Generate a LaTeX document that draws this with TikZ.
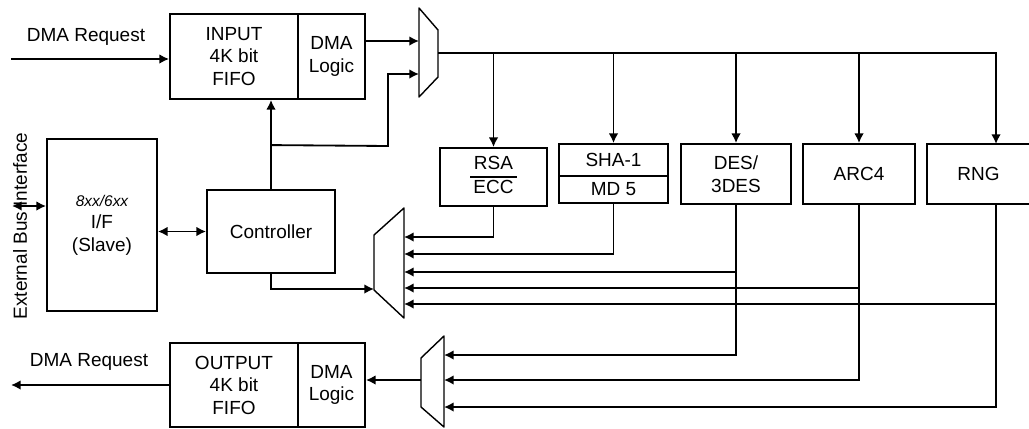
\documentclass[tikz,border=0pt]{standalone}
\usepackage{fontspec}
\setmainfont{Liberation Sans}
\usepackage{tikz}
\usetikzlibrary{arrows.meta, positioning}

\begin{document}
\begin{tikzpicture}[
    x=0.025cm, y=-0.025cm,
    font=\fontsize{13.5}{16}\selectfont,
    block/.style={rectangle, draw, line width=1.3pt, align=center, inner sep=0pt},
    wire/.style={line width=1.3pt},
    arrow/.style={line width=1.3pt, -{Latex[length=2.4mm,width=2.4mm]}},
    biarrow/.style={line width=1.3pt, {Latex[length=2.4mm,width=2.4mm]}-{Latex[length=2.4mm,width=2.4mm]}},
    mux/.style={draw, line width=1pt, line join=round}
]
\useasboundingbox (0,0) rectangle (1029,428);

% fifos
\node[block, minimum width=3.2cm, minimum height=2.125cm] (infifo) at (234,56.5) {INPUT\\4K bit\\FIFO};
\node[block, minimum width=1.675cm, minimum height=2.125cm] (indma) at (331.5,56.5) {DMA\\Logic};
\node[block, minimum width=3.2cm, minimum height=2.1cm] (outfifo) at (234,385) {OUTPUT\\4K bit\\FIFO};
\node[block, minimum width=1.675cm, minimum height=2.1cm] (outdma) at (331.5,385) {DMA\\Logic};

\node (reqin) at (86,37) {DMA Request};
\node (reqout) at (89,362) {DMA Request};

% bus side
\node[block, minimum width=2.75cm, minimum height=4.3cm] (slave) at (102,225) {{\fontsize{11}{13}\selectfont\itshape 8xx/6xx}\\I/F\\(Slave)};
\node[block, minimum width=3.2cm, minimum height=2.075cm] (ctrl) at (271,231.5) {Controller};
\node[rotate=90] (extbus) at (20,226) {External Bus Interface};

% engines
\setlength{\arrayrulewidth}{1pt}
\node[block, minimum width=2.675cm, minimum height=1.45cm] (rsa) at (493.5,177) {\begin{tabular}{@{\,}c@{\,}}RSA\\\hline ECC\end{tabular}};
\node[block, minimum width=2.725cm, minimum height=0.8cm] (shaA) at (613.5,160) {SHA-1};
\node[block, minimum width=2.725cm, minimum height=0.675cm] (shaB) at (613.5,189.5) {MD 5};
\node[block, minimum width=2.75cm, minimum height=1.5cm] (des) at (736,174) {DES/\\3DES};
\node[block, minimum width=2.8cm, minimum height=1.5cm] (arc) at (859,174) {ARC4};
\node[block, minimum width=2.575cm, minimum height=1.5cm] (rng) at (978.5,174) {RNG};
\coordinate (rngin) at (996,144);
\coordinate (rngout) at (996,204);

% muxes
\draw[mux] (419,8) -- (438,30) -- (438,77) -- (419,97) -- cycle;
\draw[mux] (374,235) -- (404,208) -- (404,318) -- (374,290) -- cycle;
\draw[mux] (421,358) -- (444,336) -- (444,427) -- (421,407) -- cycle;
\coordinate (m1a) at (419,41);
\coordinate (m1b) at (419,74);
\coordinate (m1out) at (438,53);
\coordinate (m2sel) at (374,289);
\coordinate (m2a) at (404,237);
\coordinate (m2b) at (404,254);
\coordinate (m2c) at (404,272);
\coordinate (m2d) at (404,288);
\coordinate (m2e) at (404,304);
\coordinate (m3a) at (444,355);
\coordinate (m3b) at (444,380);
\coordinate (m3c) at (444,407);
\coordinate (m3out) at (421,380);

% input side
\coordinate (reqsrc) at (11,59);
\draw[arrow] (reqsrc) -- (reqsrc -| infifo.west);
\draw[arrow] (indma.east |- m1a) -- (m1a);
\draw[wire] (ctrl.north) -- ++(0,-44) coordinate (junc);
\draw[arrow] (junc) -- (junc |- infifo.south);
\draw[arrow] (junc) -- (388,146) |- (m1b);

% bus to engines
\draw[arrow] (m1out) -| (rngin);
\foreach \b in {rsa, shaA, des, arc}
    \draw[arrow] (m1out -| \b.north) -- (\b.north);

% engines to muxes
\draw[arrow] (rsa.south) |- (m2a);
\draw[arrow] (shaB.south) |- (m2b);
\draw[arrow] (des.south) |- (m2c);
\draw[arrow] (arc.south) |- (m2d);
\draw[arrow] (rngout) |- (m2e);
\draw[arrow] (des.south) |- (m3a);
\draw[arrow] (arc.south) |- (m3b);
\draw[arrow] (rngout) |- (m3c);

% controller
\coordinate (extend) at (12,206);
\draw[biarrow] (extend) -- (extend -| slave.west);
\draw[biarrow] (slave.east |- ctrl) -- (ctrl.west);
\draw[arrow] (ctrl.south) |- (m2sel);

% output side
\draw[arrow] (m3out) -- (m3out -| outdma.east);
\coordinate (reqdst) at (11,385);
\draw[arrow] (outfifo.west) -- (reqdst);

\end{tikzpicture}
\end{document}
